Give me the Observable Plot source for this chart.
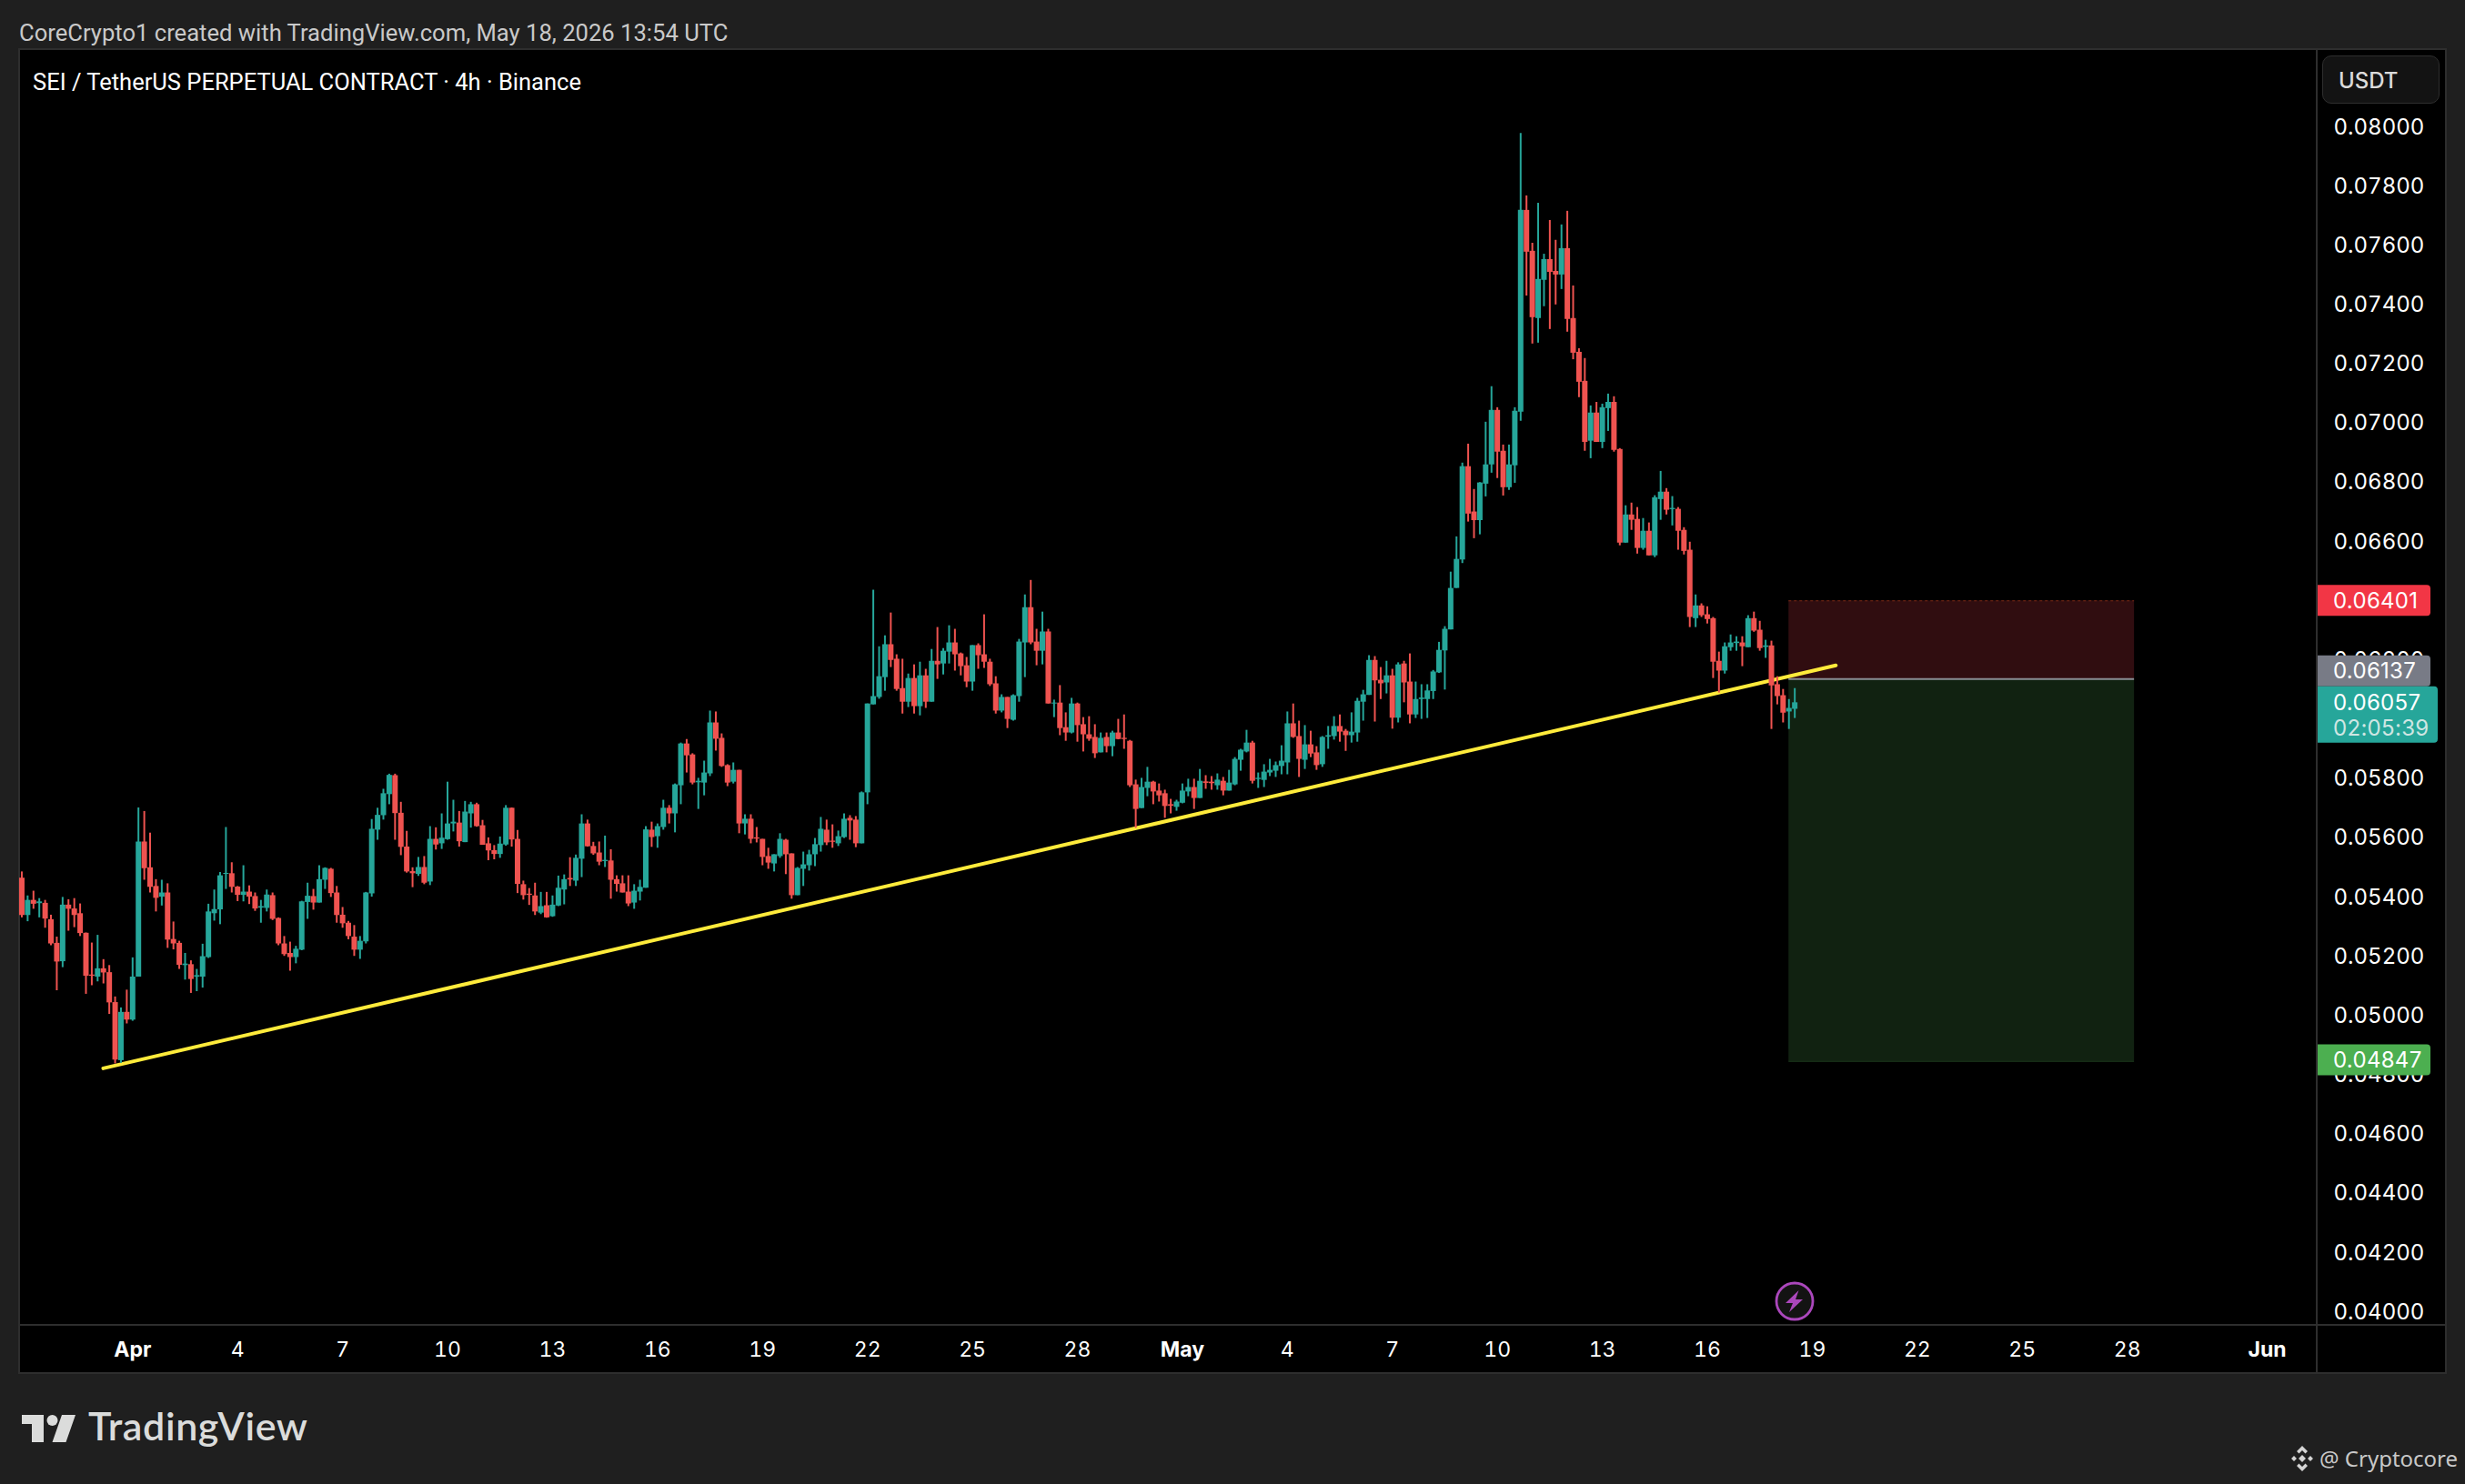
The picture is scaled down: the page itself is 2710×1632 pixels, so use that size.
<!DOCTYPE html>
<html><head><meta charset="utf-8">
<script src="https://cdn.jsdelivr.net/npm/d3@7"></script>
<script src="https://cdn.jsdelivr.net/npm/@observablehq/plot@0.6"></script>
<style>
html,body{margin:0;padding:0;background:#1f1f1f;overflow:hidden;width:2710px;height:1632px}
#page{position:relative;width:2710px;height:1632px;font-family:Inter,sans-serif}
#page>*{position:absolute}
#panel{left:20px;top:53px;width:2666px;height:1454px;background:#000;border:2px solid #2e2e2e}
.sep{background:#2e2e2e}
#chart{left:0;top:0}
#credit{left:21px;top:21px;font:25.6px/30px Roboto,sans-serif;color:#c9c9c9;white-space:nowrap}
#title{left:36px;top:75px;font:25.5px/30px Roboto,sans-serif;color:#fff;white-space:nowrap}
#usdt{left:2553px;top:61px;width:129px;height:53px;box-sizing:border-box;background:#131313;border:1.5px solid #2e2e2e;border-radius:10px;color:#dbdbdb;font:500 24px/53px Inter,sans-serif;padding-left:17px}
#brand{left:97px;top:1543px;font:600 43px/50px Lato,Inter,sans-serif;letter-spacing:.6px;color:#dbdcdb;white-space:nowrap}
#mark{left:2550px;top:1586px;font:24px/36px "Noto Sans",sans-serif;color:#c8c8c8;white-space:nowrap}
</style></head><body>
<div id="page">
<div id="panel"></div>
<div id="credit">CoreCrypto1 created with TradingView.com, May 18, 2026 13:54 UTC</div>
<div id="title">SEI / TetherUS PERPETUAL CONTRACT · 4h · Binance</div>
<div id="usdt">USDT</div>
<svg style="left:0;top:1540px" width="96" height="60" viewBox="0 1540 96 60"><path fill="#dbdcdb" d="M24 1556h24v30h-13v-20h-11zM68 1556h15l-10.500 30h-15z"/><circle cx="57.500" cy="1562" r="6" fill="#dbdcdb"/></svg>
<div id="brand">TradingView</div>
<svg style="left:2516px;top:1589px" width="30" height="30" viewBox="0 0 30 30" fill="#d4d4d4"><path d="M15 1l6 6-2.500 2.500-3.500-3.500-3.500 3.500-2.500-2.500zM15 11l4 4-4 4-4-4zM15 29l-6-6 2.500-2.500 3.500 3.500 3.500-3.500 2.500 2.500z"/><path d="M6 12l3 3-3 3-3-3zM24 12l3 3-3 3-3-3z"/></svg>
<div id="mark">@ Cryptocore</div>
<svg style="left:1950px;top:1408px" width="46" height="46" viewBox="0 0 46 46"><circle cx="23" cy="23" r="20" fill="#131313" stroke="#ab47bc" stroke-width="2.800"/><path fill="#ab47bc" d="M27.500 11L13 25h8l-4 10 15-14h-8z"/></svg>
</div>
<script>
// Candles: Binance SEIUSDT.P 4h, prices in 1e-5 USDT, first bar 2026-03-28 20:00 UTC
const firstBar = Date.UTC(2026, 2, 28, 20);
const open = [5465,5339,5390,5379,5380,5325,5245,5183,5374,5361,5345,5279,5138,5131,5159,5146,5045,4849,5012,4986,5131,5587,5500,5437,5401,5415,5258,5245,5170,5173,5131,5131,5197,5345,5358,5478,5480,5435,5407,5418,5403,5364,5363,5406,5329,5243,5211,5197,5222,5383,5403,5381,5458,5495,5415,5340,5313,5266,5222,5250,5412,5627,5676,5747,5811,5684,5570,5487,5478,5501,5452,5596,5581,5595,5648,5651,5585,5682,5713,5642,5581,5558,5545,5577,5701,5596,5443,5411,5405,5347,5372,5335,5371,5425,5464,5455,5529,5648,5572,5550,5521,5523,5460,5446,5418,5381,5418,5431,5627,5605,5636,5701,5682,5777,5918,5881,5787,5786,5817,5989,5937,5845,5789,5829,5648,5664,5601,5596,5538,5513,5538,5593,5547,5406,5495,5507,5544,5575,5627,5590,5581,5602,5667,5661,5581,5753,6050,6075,6142,6253,6204,6105,6059,6139,6044,6148,6059,6197,6188,6228,6259,6222,6182,6127,6250,6219,6194,6121,6029,6075,5998,6078,6259,6378,6262,6231,6296,6053,6056,5973,5955,6053,5983,5949,5940,5888,5940,5909,5955,5937,5927,5780,5700,5768,5789,5759,5750,5713,5704,5718,5756,5771,5734,5790,5789,5777,5792,5759,5780,5863,5891,5921,5798,5795,5820,5826,5842,5854,5986,5943,5863,5915,5888,5848,5941,5943,5977,5961,5946,5955,6059,6082,6200,6133,6124,6148,6005,6188,6127,6016,6068,6068,6095,6158,6232,6303,6443,6539,6854,6701,6672,6795,6860,7044,6906,6783,6857,7038,7719,7581,7354,7483,7553,7513,7501,7590,7354,7240,7142,6940,7035,6936,7050,7071,6912,6596,6691,6676,6578,6636,6553,6743,6768,6709,6710,6639,6572,6341,6384,6354,6341,6197,6164,6243,6257,6259,6243,6341,6302,6244,6249,6118,6081,6026,6035];
const close = [5339,5390,5377,5385,5327,5243,5182,5374,5360,5339,5278,5134,5134,5159,5145,5044,4851,5012,4986,5131,5587,5497,5434,5397,5415,5256,5243,5171,5175,5123,5136,5200,5351,5359,5473,5481,5434,5407,5418,5401,5361,5369,5408,5326,5243,5207,5197,5225,5385,5404,5381,5460,5498,5413,5339,5311,5268,5222,5252,5415,5630,5677,5750,5812,5683,5569,5486,5480,5501,5448,5596,5577,5600,5648,5654,5588,5688,5713,5639,5576,5557,5545,5580,5701,5594,5444,5406,5407,5351,5369,5331,5374,5431,5460,5459,5532,5648,5571,5547,5519,5525,5458,5444,5415,5378,5421,5434,5628,5602,5639,5701,5682,5780,5918,5878,5786,5792,5820,5989,5934,5842,5786,5829,5648,5664,5596,5597,5535,5516,5544,5596,5544,5406,5498,5510,5544,5578,5630,5584,5586,5605,5664,5658,5581,5753,6053,6078,6145,6253,6200,6102,6059,6139,6044,6148,6059,6197,6185,6231,6259,6219,6179,6127,6250,6216,6194,6118,6029,6075,6001,6081,6262,6378,6259,6231,6296,6053,6056,5970,5955,6053,5980,5949,5934,5885,5937,5909,5955,5933,5933,5777,5697,5771,5789,5756,5743,5707,5708,5722,5759,5771,5734,5792,5785,5784,5796,5759,5786,5866,5897,5921,5792,5802,5823,5829,5845,5860,5986,5940,5866,5915,5884,5845,5940,5946,5977,5958,5946,5958,6062,6084,6200,6131,6121,6148,6005,6185,6124,6016,6068,6073,6097,6161,6234,6305,6443,6541,6854,6694,6672,6799,6860,7044,6903,6783,6860,7041,7719,7578,7357,7486,7553,7510,7501,7590,7351,7237,7139,6936,7035,6936,7053,7071,6909,6596,6691,6673,6578,6636,6553,6749,6768,6707,6713,6636,6568,6345,6384,6351,6338,6194,6164,6246,6259,6262,6246,6341,6299,6240,6249,6114,6078,6022,6038,6057];
const high = [5486,5405,5421,5396,5390,5340,5266,5400,5392,5396,5378,5280,5246,5272,5190,5170,5064,5027,5087,5196,5702,5690,5617,5460,5458,5446,5317,5252,5211,5186,5157,5242,5377,5425,5484,5636,5517,5437,5507,5439,5415,5390,5425,5415,5331,5268,5249,5235,5387,5448,5427,5507,5500,5498,5437,5366,5319,5305,5268,5417,5663,5701,5765,5816,5816,5721,5623,5500,5535,5538,5639,5635,5682,5789,5728,5690,5724,5721,5718,5660,5601,5575,5604,5710,5702,5626,5455,5430,5448,5417,5417,5405,5472,5476,5534,5543,5679,5661,5586,5587,5607,5561,5473,5473,5473,5443,5458,5639,5654,5648,5728,5710,5783,5921,5933,5885,5802,5860,6029,6026,5952,5848,5854,5829,5679,5679,5636,5596,5566,5544,5615,5596,5547,5501,5553,5559,5599,5670,5661,5645,5624,5682,5676,5673,5756,6053,6437,6246,6283,6360,6219,6204,6154,6185,6194,6170,6237,6311,6240,6317,6305,6225,6210,6250,6256,6354,6204,6145,6084,6075,6084,6271,6421,6470,6305,6363,6305,6066,6115,6023,6072,6056,6007,6010,5983,5955,5955,5961,6001,6016,5930,5796,5802,5839,5792,5783,5762,5731,5728,5783,5799,5799,5832,5811,5808,5817,5805,5829,5872,5900,5964,5927,5820,5848,5866,5857,5912,6026,6053,5995,5980,5961,5909,5943,5977,6010,6016,5967,6023,6072,6099,6216,6213,6176,6197,6170,6192,6197,6222,6127,6118,6118,6166,6261,6314,6498,6617,6866,6930,6777,6800,7004,7124,7053,6927,6927,7053,7979,7768,7608,7743,7571,7685,7618,7670,7716,7464,7252,7219,7059,7071,7065,7099,7090,6915,6722,6731,6716,6679,6664,6756,6838,6780,6753,6716,6648,6599,6421,6391,6381,6345,6228,6259,6286,6280,6280,6351,6363,6332,6268,6265,6145,6102,6068,6105];
const low = [5331,5318,5360,5331,5296,5237,5085,5163,5286,5298,5268,5073,5102,5115,5108,5005,4838,4840,4973,4982,5131,5458,5415,5351,5371,5228,5223,5157,5121,5076,5082,5094,5194,5320,5308,5427,5415,5386,5385,5376,5353,5313,5351,5322,5237,5201,5151,5176,5220,5326,5357,5381,5427,5400,5313,5296,5257,5201,5191,5243,5401,5593,5661,5713,5593,5541,5482,5433,5471,5443,5440,5560,5562,5593,5621,5570,5585,5634,5637,5576,5524,5527,5532,5573,5570,5413,5391,5373,5339,5342,5330,5333,5369,5375,5437,5437,5467,5570,5542,5507,5501,5394,5418,5415,5369,5360,5388,5431,5569,5566,5627,5648,5618,5713,5820,5780,5697,5743,5808,5894,5839,5774,5783,5615,5611,5581,5584,5507,5495,5486,5532,5477,5394,5406,5437,5489,5504,5553,5575,5566,5572,5599,5593,5568,5581,5713,6050,6069,6096,6176,6096,6019,6041,6019,6013,6038,6059,6136,6151,6188,6164,6148,6108,6096,6170,6173,6112,6019,6023,5970,5995,6059,6142,6253,6182,6185,6053,6007,5946,5927,5952,5924,5891,5927,5869,5888,5888,5875,5932,5900,5771,5633,5700,5740,5713,5722,5667,5682,5691,5716,5740,5697,5734,5765,5762,5762,5743,5759,5777,5826,5888,5783,5768,5771,5808,5805,5814,5814,5937,5805,5832,5872,5829,5839,5900,5931,5924,5893,5921,5924,5995,6082,5992,6068,6087,5968,5989,6057,5986,6004,6001,6004,6068,6156,6100,6303,6443,6527,6667,6611,6624,6752,6832,6814,6755,6774,6798,7007,7430,7268,7271,7394,7317,7400,7452,7308,7215,7087,6906,6881,6936,6915,6973,6903,6587,6596,6639,6559,6572,6553,6547,6673,6691,6654,6572,6556,6311,6311,6345,6323,6139,6090,6154,6231,6231,6179,6243,6295,6231,6207,5967,6050,5989,5967,6004];

const priceTicks = [4000,4200,4400,4600,4800,5000,5200,5400,5600,5800,6000,6200,6400,6600,6800,7000,7200,7400,7600,7800,8000];
const dayTicks = ["04-04","04-07","04-10","04-13","04-16","04-19","04-22","04-25","04-28","05-04","05-07","05-10","05-13","05-16","05-19","05-22","05-25","05-28"];
const monthTicks = ["04-01","05-01","06-01"];
const trendStart = "2026-03-31T03:50Z", trendEnd = "2026-05-19T16:10Z";
const trendPrices = [4823, 6183];
const stopPrice = 6401, entryPrice = 6137, targetPrice = 4847, lastPrice = 6057;
const zoneStart = "2026-05-18T08:00Z", zoneEnd = "2026-05-28T05:00Z";
const countdown = "02:05:39";

const FOUR_H = 4 * 3600 * 1000;
const candles = open.map((o, i) => ({t: new Date(firstBar + i * FOUR_H), o, c: close[i], h: high[i], l: low[i]}));
const UP = "#26a69a", DOWN = "#ef5350";
const colour = d => d.c >= d.o ? UP : DOWN;
const fmt = v => (v / 1e5).toFixed(5);
const day = s => new Date(`2026-${s}T00:00Z`);
const font = "Inter, sans-serif";

function chips(index, scales) {
  const g = d3.create("svg:g").attr("font-family", font).attr("font-size", 24).attr("letter-spacing", 0.3).attr("text-anchor", "start");
  const x0 = 2548;
  const list = [
    {p: stopPrice, fill: "#f23645", w: 124, h: 34, dy: 0},
    {p: entryPrice, fill: "#787b86", w: 124, h: 34, dy: -8.6},
    {p: targetPrice, fill: "#4caf50", w: 124, h: 34, dy: -1},
  ];
  for (const c of list) {
    const yc = scales.y(c.p) + c.dy;
    g.append("path").attr("fill", c.fill)
      .attr("d", `M${x0} ${yc - c.h/2}h${c.w-4}q4 0 4 4v${c.h-8}q0 4 -4 4h${-(c.w-4)}z`);
    g.append("text").attr("x", 2565).attr("y", yc).attr("dy", "0.36em").attr("fill", "#fff").text(fmt(c.p));
  }
  const yl = scales.y(lastPrice);
  g.append("path").attr("fill", UP)
    .attr("d", `M${x0} ${yl-17.7}h128q4 0 4 4v54q0 4 -4 4h-128z`);
  g.append("text").attr("x", 2565).attr("y", yl).attr("dy", "0.36em").attr("fill", "#fff").text(fmt(lastPrice));
  g.append("text").attr("x", 2565).attr("y", yl + 28).attr("dy", "0.36em").attr("fill", "#cfe6e3").text(countdown);
  return g.node();
}

const axisStyle = {tickSize: 0, fontSize: 23, fontFamily: font, fill: "#fff", stroke: null};

const chart = Plot.plot({
  width: 2710, height: 1632,
  marginTop: 53.5, marginBottom: 175, marginLeft: 20.5, marginRight: 163.5,
  style: {background: "transparent", fontFamily: font},
  x: {type: "utc", domain: [new Date("2026-03-28T18:09Z"), new Date("2026-06-02T10:00Z")]},
  y: {domain: [3955.5, 8263.4]},
  marks: [
    Plot.rect([{}], {x1: () => new Date(zoneStart), x2: () => new Date(zoneEnd), y1: () => entryPrice, y2: () => stopPrice, fill: "#300d10"}),
    Plot.rect([{}], {x1: () => new Date(zoneStart), x2: () => new Date(zoneEnd), y1: () => targetPrice, y2: () => entryPrice, fill: "#112211"}),
    Plot.ruleY([stopPrice], {x1: new Date(zoneStart), x2: new Date(zoneEnd), stroke: "#7a2a14", strokeWidth: 1.2, strokeDasharray: "3,3"}),
    Plot.ruleY([targetPrice], {x1: new Date(zoneStart), x2: new Date(zoneEnd), stroke: "#1c3a1c", strokeWidth: 1.2}),
    Plot.ruleY([entryPrice], {x1: new Date(zoneStart), x2: new Date(zoneEnd), stroke: "#8a8d94", strokeWidth: 1.8}),
    Plot.line([[new Date(trendStart), trendPrices[0]], [new Date(trendEnd), trendPrices[1]]], {x: d => d[0], y: d => d[1], stroke: "#ffeb3b", strokeWidth: 4}),
    Plot.ruleX(candles, {x: "t", y1: "l", y2: "h", stroke: colour, strokeWidth: 2}),
    Plot.ruleX(candles, {x: "t", y1: "o", y2: "c", stroke: colour, strokeWidth: 6}),
    Plot.axisY(priceTicks, {anchor: "right", tickFormat: fmt, tickPadding: 18.5, textAnchor: "start", label: null, letterSpacing: 0.3, ...axisStyle, fontSize: 24}),
    Plot.axisX(dayTicks.map(day), {anchor: "bottom", tickFormat: d => String(d.getUTCDate()), tickPadding: 18, label: null, ...axisStyle}),
    Plot.axisX(monthTicks.map(day), {anchor: "bottom", tickFormat: d => d3.utcFormat("%b")(d), tickPadding: 18, label: null, fontWeight: 700, ...axisStyle}),
    chips
  ]
});
chart.id = "chart";
const page = document.getElementById("page");
page.insertBefore(chart, document.getElementById("credit"));
chart.style.position = "absolute"; chart.style.left = "0"; chart.style.top = "0"; chart.style.maxWidth = "none";
// separators
for (const [l,t,w,h] of [[2546,53,2,1458],[20,1456,2670,2]]) {
  const s = document.createElement("div"); s.className = "sep";
  s.style.cssText += `left:${l}px;top:${t}px;width:${w}px;height:${h}px`;
  page.insertBefore(s, chart);
}
</script>
</body></html>
